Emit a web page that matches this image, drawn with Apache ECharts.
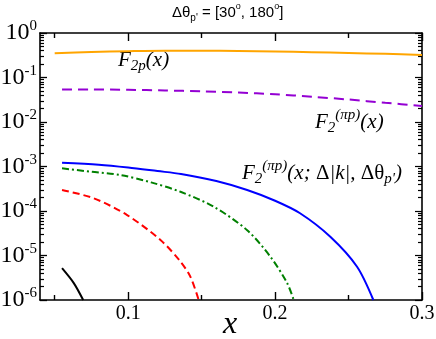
<!DOCTYPE html>
<html>
<head>
<meta charset="utf-8">
<script src="https://cdn.jsdelivr.net/npm/echarts@6/dist/echarts.min.js"></script>
<style>
  html, body { margin: 0; padding: 0; background: #fff; }
  #chart { width: 436px; height: 339px; }
</style>
</head>
<body>
<div id="chart"></div>
<script>
// axis ticks
const xMajorTicks = [0.1, 0.2, 0.3];
const xMinorTicks = [0.05, 0.15, 0.25];
const yMajorTicks = [1e-6, 1e-5, 1e-4, 1e-3, 1e-2, 1e-1, 1];
const yMinorSteps = [2, 3, 4, 5, 6, 7, 8, 9];

// F_2p(x)
const xF2p = [0.05, 0.075, 0.1, 0.125, 0.15, 0.175, 0.2, 0.225, 0.25, 0.275, 0.3];
const yF2p = [0.35, 0.375, 0.39, 0.40, 0.40, 0.395, 0.385, 0.37, 0.355, 0.34, 0.32];

// F_2^(pi p)(x)
const xPi = [0.055, 0.075, 0.1, 0.125, 0.15, 0.175, 0.2, 0.225, 0.25, 0.275, 0.3];
const yPi = [0.054, 0.054, 0.053, 0.051, 0.049, 0.046, 0.042, 0.037, 0.032, 0.027, 0.023];

// F_2^(pi p)(x; dk, dtheta) - blue
const xBlue = [0.055, 0.08, 0.1, 0.12, 0.136, 0.16, 0.181, 0.2, 0.217, 0.2376, 0.2558, 0.2669];
const yBlue = [1.22e-3, 1.1e-3, 9.5e-4, 7.9e-4, 6.8e-4, 4.7e-4, 2.96e-4, 1.7e-4, 8.9e-5, 2.64e-5, 5.6e-6, 1e-6];

// green dash-dot
const xGreen = [0.055, 0.075, 0.095, 0.1156, 0.1356, 0.1582, 0.181, 0.1968, 0.2082, 0.2127];
const yGreen = [9.1e-4, 7.6e-4, 6.4e-4, 4.4e-4, 2.7e-4, 1.25e-4, 3.7e-5, 9.4e-6, 2.4e-6, 1e-6];

// red dashed
const xRed = [0.055, 0.0766, 0.0993, 0.122, 0.1356, 0.1424, 0.148];
const yRed = [2.96e-4, 1.93e-4, 8.1e-5, 2.23e-5, 7.3e-6, 3.3e-6, 1e-6];

// black
const xBlack = [0.055, 0.063, 0.0694];
const yBlack = [5.2e-6, 2.4e-6, 1e-6];

const pairs = (xs, ys) => xs.map((x, i) => [x, ys[i]]);

// tick-only axes work in log10 space
const yMajorExp = yMajorTicks.map(v => Math.round(Math.log10(v)));
const yMinorExp = [];
yMajorTicks.slice(0, -1).forEach(d => yMinorSteps.forEach(k => yMinorExp.push(Math.log10(k * d))));

const serif = "'Liberation Serif', 'DejaVu Serif', serif";
const sans = "'Liberation Sans', sans-serif";

function xTickAxis(grid, position, ticks, len, line) {
  return {
    type: 'value', gridIndex: grid, position: position, min: 0.04, max: 0.3,
    axisLine: { show: line, onZero: false, lineStyle: { color: '#000', width: 1.6 } },
    splitLine: { show: false },
    axisTick: { show: true, inside: true, length: len, customValues: ticks,
      lineStyle: { color: '#000', width: 1.4 } },
    axisLabel: { show: false }
  };
}

function yTickAxis(grid, position, ticks, len, line) {
  return {
    type: 'value', gridIndex: grid, position: position, min: -6, max: 0,
    axisLine: { show: line, onZero: false, lineStyle: { color: '#000', width: 1.6 } },
    splitLine: { show: false },
    axisTick: { show: true, inside: true, length: len, customValues: ticks,
      lineStyle: { color: '#000', width: 1.2 } },
    axisLabel: { show: false }
  };
}

const richLabel = {
  F: { fontFamily: serif, fontStyle: 'italic', fontSize: 21, lineHeight: 28, color: '#000' },
  R: { fontFamily: serif, fontSize: 21, lineHeight: 28, color: '#000' },
  s: { fontFamily: serif, fontStyle: 'italic', fontSize: 15, lineHeight: 12, verticalAlign: 'bottom', color: '#000' },
  u: { fontFamily: serif, fontStyle: 'italic', fontSize: 15, lineHeight: 11, verticalAlign: 'top', color: '#000' }
};

const gridBox = { left: 40, right: 14, top: 33, bottom: 39, containLabel: false, outerBoundsMode: 'none' };

const chart = echarts.init(document.getElementById('chart'));
chart.setOption({
  animation: false,
  backgroundColor: '#fff',
  grid: [Object.assign({}, gridBox), Object.assign({}, gridBox)],
  xAxis: [
    {
      type: 'value', gridIndex: 0, position: 'bottom', min: 0.04, max: 0.3,
      axisLine: { show: true, onZero: false, lineStyle: { color: '#000', width: 1.6 } },
      splitLine: { show: false },
      axisTick: { show: true, inside: true, length: 8, customValues: xMajorTicks,
        lineStyle: { color: '#000', width: 1.4 } },
      axisLabel: { customValues: xMajorTicks, margin: 4, fontFamily: serif, fontSize: 20,
        color: '#000', formatter: v => v.toFixed(1) }
    },
    xTickAxis(0, 'top', xMajorTicks, 8, true),
    xTickAxis(1, 'bottom', xMinorTicks, 5, false),
    xTickAxis(1, 'top', xMinorTicks, 5, false)
  ],
  yAxis: [
    {
      type: 'log', logBase: 10, gridIndex: 0, position: 'left', min: 1e-6, max: 1,
      axisLine: { show: true, onZero: false, lineStyle: { color: '#000', width: 1.6 } },
      splitLine: { show: false },
      axisTick: { show: true, inside: true, length: 7, lineStyle: { color: '#000', width: 1.3 } },
      axisLabel: {
        margin: 3,
        formatter: v => '{b|10}{e|' + Math.round(Math.log10(v)) + '}',
        rich: {
          b: { fontFamily: serif, fontSize: 24, lineHeight: 28, color: '#000' },
          e: { fontFamily: serif, fontSize: 15, lineHeight: 13, verticalAlign: 'top', color: '#000' }
        }
      }
    },
    yTickAxis(0, 'right', yMajorExp, 7, true),
    yTickAxis(1, 'left', yMinorExp, 4, false),
    yTickAxis(1, 'right', yMinorExp, 4, false)
  ],
  series: [
    { name: 'F2p', type: 'line', data: pairs(xF2p, yF2p), smooth: 0.3, showSymbol: false,
      lineStyle: { color: '#FFA500', width: 2 } },
    { name: 'F2pi', type: 'line', data: pairs(xPi, yPi), smooth: 0.3, showSymbol: false,
      lineStyle: { color: '#9400D3', width: 2, type: [10, 6] } },
    { name: 'blue', type: 'line', data: pairs(xBlue, yBlue), smooth: 0.3, showSymbol: false,
      lineStyle: { color: '#0000FF', width: 2 } },
    { name: 'green', type: 'line', data: pairs(xGreen, yGreen), smooth: 0.3, showSymbol: false,
      lineStyle: { color: '#008000', width: 2, type: [7, 3, 2, 3] } },
    { name: 'red', type: 'line', data: pairs(xRed, yRed), smooth: 0.3, showSymbol: false,
      lineStyle: { color: '#FF0000', width: 2, type: [7, 4] } },
    { name: 'black', type: 'line', data: pairs(xBlack, yBlack), smooth: 0.3, showSymbol: false,
      lineStyle: { color: '#000', width: 2 } }
  ],
  graphic: [
    { type: 'text', x: 172, y: 2, style: {
        text: '{n|Δθ}{s|p\'}{n| = [30}{u|o}{n|, 180}{u|o}{n|]}',
        rich: {
          n: { fontFamily: sans, fontSize: 15, lineHeight: 21, color: '#000' },
          s: { fontFamily: sans, fontSize: 10, lineHeight: 10, verticalAlign: 'bottom', color: '#000' },
          u: { fontFamily: sans, fontSize: 9, lineHeight: 9, verticalAlign: 'top', color: '#000' }
        } } },
    { type: 'text', x: 118, y: 46, style: { text: '{F|F}{s|2p}{F|(x)}', rich: richLabel } },
    { type: 'text', x: 315, y: 108, style: { text: '{F|F}{s|2}{u|(πp)}{F|(x)}', rich: richLabel } },
    { type: 'text', x: 242, y: 159, style: {
        text: '{F|F}{s|2}{u|(πp)}{F|(x; }{R|Δ}{F||k|, }{R|Δθ}{s|p\'}{F|)}', rich: richLabel } },
    { type: 'text', x: 223, y: 309, style: {
        text: 'x', fontFamily: serif, fontStyle: 'italic', fontSize: 32, fill: '#000' } }
  ]
});
</script>
</body>
</html>
